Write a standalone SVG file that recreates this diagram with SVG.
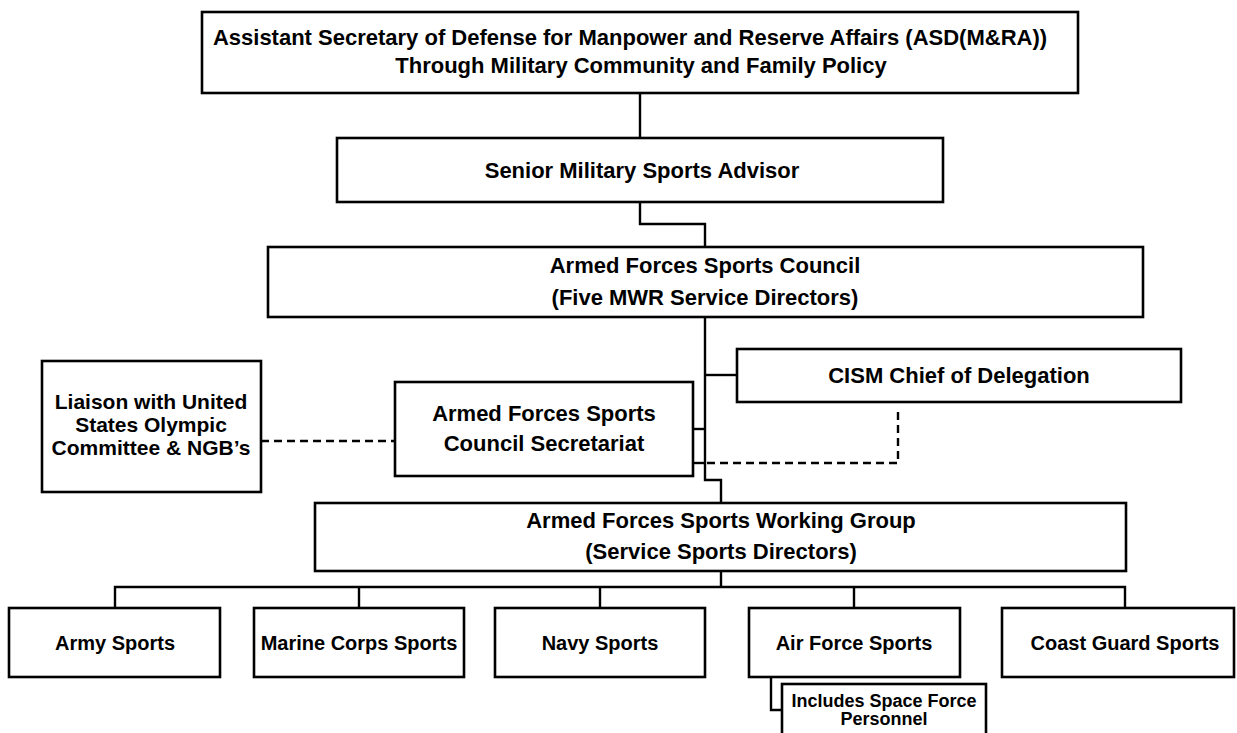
<svg xmlns="http://www.w3.org/2000/svg" width="1237" height="733" viewBox="0 0 1237 733">
<style>
.box{fill:#fff;stroke:#000;stroke-width:2.6}
.ln{fill:none;stroke:#000;stroke-width:2.4}
.dash{fill:none;stroke:#000;stroke-width:2.4;stroke-dasharray:8,5}
text{font-family:"Liberation Sans",Arial,sans-serif;font-weight:bold;fill:#000;text-anchor:middle}
.t22{font-size:22px}
.t21{font-size:21px}
.t20{font-size:20px}
.t18{font-size:18px}
</style>
<rect width="1237" height="733" fill="#fff"/>
<g id="connectors">
<polyline class="ln" points="640,93 640,138"/>
<polyline class="ln" points="640,202 640,224 705,224 705,247"/>
<polyline class="ln" points="705,317 705,480 721,480 721,503"/>
<line class="ln" x1="705" y1="375" x2="737" y2="375"/>
<line class="ln" x1="693" y1="429" x2="705" y2="429"/>
<line class="ln" x1="693" y1="463" x2="705" y2="463"/>
<polyline class="dash" points="707,463 898,463 898,407"/>
<line class="dash" x1="261" y1="441" x2="395" y2="441"/>
<polyline class="ln" points="721,571 721,587"/>
<polyline class="ln" points="115,608 115,587 1125,587 1125,608"/>
<line class="ln" x1="359" y1="587" x2="359" y2="608"/>
<line class="ln" x1="600" y1="587" x2="600" y2="608"/>
<line class="ln" x1="854" y1="587" x2="854" y2="608"/>
<polyline class="ln" points="771,677 771,710 782,710"/>
</g>
<g id="asd">
<rect class="box" x="202" y="12" width="876" height="81"/>
<text class="t22" x="630" y="45">Assistant Secretary of Defense for Manpower and Reserve Affairs (ASD(M&amp;RA))</text>
<text class="t22" x="641" y="73">Through Military Community and Family Policy</text>
</g>
<g id="senior">
<rect class="box" x="337" y="138" width="606" height="64"/>
<text class="t22" x="642" y="178">Senior Military Sports Advisor</text>
</g>
<g id="afsc">
<rect class="box" x="268" y="247" width="875" height="70"/>
<text class="t22" x="705" y="273">Armed Forces Sports Council</text>
<text class="t22" x="705" y="305">(Five MWR Service Directors)</text>
</g>
<g id="cism">
<rect class="box" x="737" y="349" width="444" height="53"/>
<text class="t22" x="959" y="383">CISM Chief of Delegation</text>
</g>
<g id="secretariat">
<rect class="box" x="395" y="382" width="298" height="94"/>
<text class="t22" x="544" y="421">Armed Forces Sports</text>
<text class="t22" x="544" y="451">Council Secretariat</text>
</g>
<g id="liaison">
<rect class="box" x="42" y="361" width="219" height="131"/>
<text class="t21" x="151" y="409">Liaison with United</text>
<text class="t21" x="151" y="432">States Olympic</text>
<text class="t21" x="151" y="455">Committee &amp; NGB’s</text>
</g>
<g id="working-group">
<rect class="box" x="315" y="503" width="811" height="68"/>
<text class="t22" x="721" y="528">Armed Forces Sports Working Group</text>
<text class="t22" x="721" y="559">(Service Sports Directors)</text>
</g>
<g id="army">
<rect class="box" x="9" y="608" width="211" height="69"/>
<text class="t20" x="115" y="650">Army Sports</text>
</g>
<g id="marine">
<rect class="box" x="254" y="608" width="210" height="69"/>
<text class="t20" x="359" y="650">Marine Corps Sports</text>
</g>
<g id="navy">
<rect class="box" x="495" y="608" width="210" height="69"/>
<text class="t20" x="600" y="650">Navy Sports</text>
</g>
<g id="airforce">
<rect class="box" x="749" y="608" width="211" height="69"/>
<text class="t20" x="854" y="650">Air Force Sports</text>
</g>
<g id="coastguard">
<rect class="box" x="1002" y="608" width="232" height="69"/>
<text class="t20" x="1125" y="650">Coast Guard Sports</text>
</g>
<g id="spaceforce">
<rect class="box" x="782" y="684" width="204" height="60"/>
<text class="t18" x="884" y="707">Includes Space Force</text>
<text class="t18" x="884" y="725">Personnel</text>
</g>
</svg>
